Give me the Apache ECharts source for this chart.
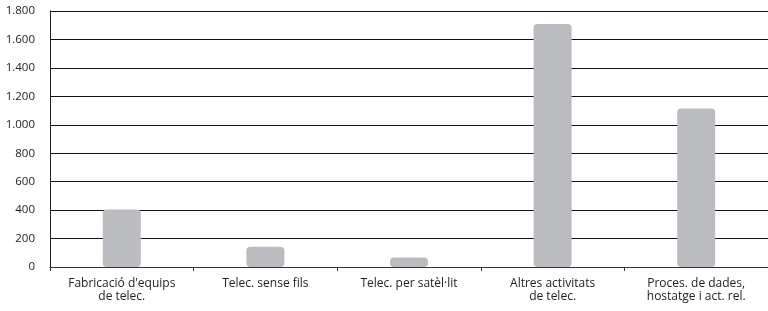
<!DOCTYPE html>
<html>
<head>
<meta charset="utf-8">
<script src="https://cdn.jsdelivr.net/npm/echarts@6/dist/echarts.min.js"></script>
<style>
  html, body { margin: 0; padding: 0; background: #fff; }
  #chart { width: 768px; height: 311px; }
</style>
</head>
<body>
<div id="chart"></div>
<script>
(function() {
    'use strict';

    var categories = [
        'Fabricació d\'equips\nde telec.',
        'Telec. sense fils',
        'Telec. per satèl·lit',
        'Altres activitats\nde telec.',
        'Proces. de dades,\nhostatge i act. rel.'
    ];
    var values = [405, 143, 66, 1708, 1115];

    var fontFamily = '"Open Sans", "Noto Sans", sans-serif';

    function thousands(v) {
        return String(v).replace(/\B(?=(\d{3})+(?!\d))/g, '.');
    }

    var chart = echarts.init(document.getElementById('chart'), null, { renderer: 'canvas' });

    chart.setOption({
        animation: false,
        grid: { left: 50, top: 11, width: 720, bottom: 44 },
        xAxis: {
            type: 'category',
            data: categories,
            axisLine: { lineStyle: { color: '#333', width: 1 } },
            axisTick: { show: true, length: 4, lineStyle: { color: '#333' } },
            axisLabel: {
                color: '#222',
                fontSize: 12,
                fontFamily: fontFamily,
                lineHeight: 13,
                margin: 10,
                interval: 0
            }
        },
        yAxis: {
            type: 'value',
            min: 0,
            max: 1800,
            interval: 200,
            axisLine: { show: true, lineStyle: { color: '#222', width: 1 } },
            axisTick: { show: false },
            splitLine: { lineStyle: { color: '#111', width: 1 } },
            axisLabel: {
                color: '#222',
                fontSize: 11.5,
                fontFamily: fontFamily,
                margin: 15,
                formatter: thousands
            }
        },
        series: [{
            type: 'bar',
            data: values,
            barWidth: 38,
            itemStyle: { color: '#bbbcbf', borderRadius: 4 }
        }]
    });
})();
</script>
</body>
</html>
